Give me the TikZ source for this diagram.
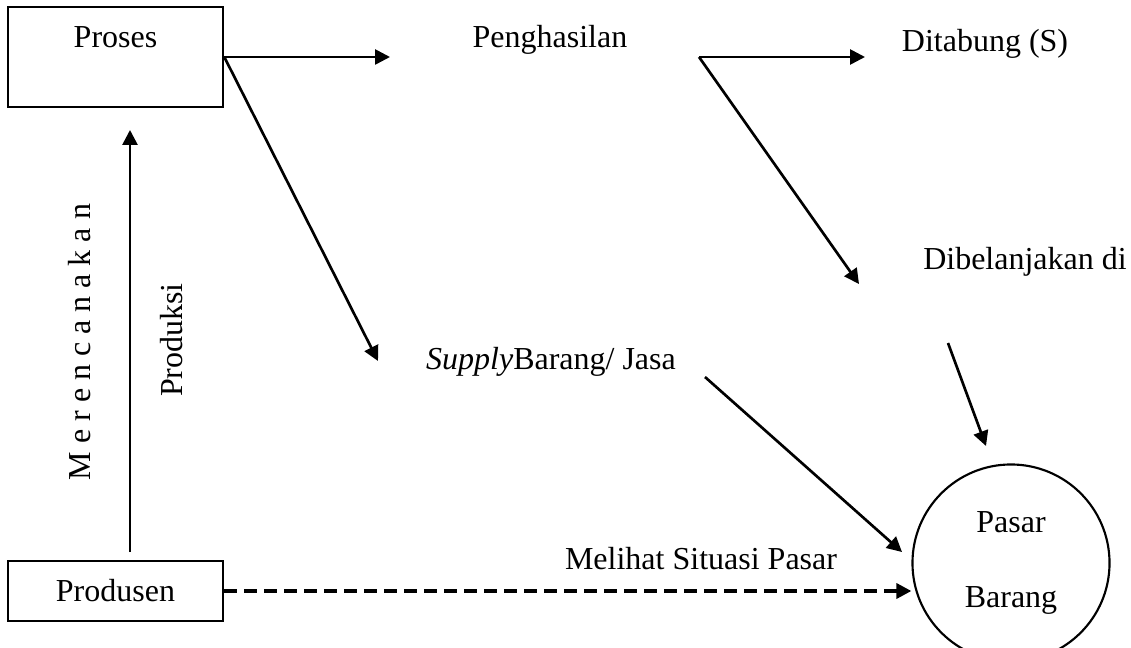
\documentclass[tikz,border=0pt]{standalone}
\usepackage{fontspec}
\setmainfont{Liberation Serif}
\usetikzlibrary{arrows.meta}
\begin{document}
\begin{tikzpicture}[x=0.375pt, y=-0.375pt, line width=1pt,
  every node/.style = {font=\fontsize{12}{14.4}\selectfont, inner sep=0pt},
  kotak/.style = {shape=rectangle, draw, minimum width=80.6pt},
  panah/.style = {-{Triangle[length=5.6pt,width=5.6pt]}},
  teks/.style = {anchor=base}]
  \useasboundingbox (0,0) rectangle (1131,648);
  % kotak dan lingkaran
  \node[kotak, minimum height=37.5pt, text height=8pt, text depth=14.8pt] (proses) at (115.5,57) {Proses};
  \node[kotak, minimum height=22.5pt] (produsen) at (115.5,591) {Produsen};
  \node[circle, draw, line width=0.8pt, minimum size=73.9pt, align=center] (pasar) at (1011,563) {Pasar\\[13.6pt]Barang};
  % teks
  \node[teks] (hasil) at (550,48) {Penghasilan};
  \node[teks] (tabung) at (985,52) {Ditabung (S)};
  \node[teks] (belanja) at (1025,270) {Dibelanjakan di};
  \node[teks] (supply) at (551,370) {\textit{Supply}Barang/ Jasa};
  \node[teks] (melihat) at (701,569) {Melihat Situasi Pasar};
  \node[rotate=90] (rencana) at (80,342) {M e r e n c a n a k a n};
  \node[rotate=90] (produksi) at (172,340) {Produksi};
  % titik ujung
  \coordinate (ujung hasil) at (390,57);
  \coordinate (ujung supply) at (378,361);
  \coordinate (cabang) at (699,57);
  \coordinate (ujung tabung) at (865,57);
  \coordinate (ujung belanja) at (859,284);
  \coordinate (awal belanja) at (948,343);
  \coordinate (ujung pasar) at (986,446);
  \coordinate (awal supply) at (705,377);
  \coordinate (ujung barang) at (902,552);
  \coordinate (awal produksi) at (130,552);
  \coordinate (ujung produksi) at (130,130);
  % panah
  \draw[panah] (proses.east) -- (ujung hasil);
  \draw[panah] (proses.east) -- (ujung supply);
  \draw[panah] (cabang) -- (ujung tabung);
  \draw[panah] (cabang) -- (ujung belanja);
  \draw[panah] (awal belanja) -- (ujung pasar);
  \draw[panah] (awal supply) -- (ujung barang);
  \draw[panah] (awal produksi) -- (ujung produksi);
  \draw[panah, line width=1.3pt, dash pattern=on 4.9pt off 2.6pt] (produsen.east) -- (produsen.east -| pasar.west);
\end{tikzpicture}
\end{document}
